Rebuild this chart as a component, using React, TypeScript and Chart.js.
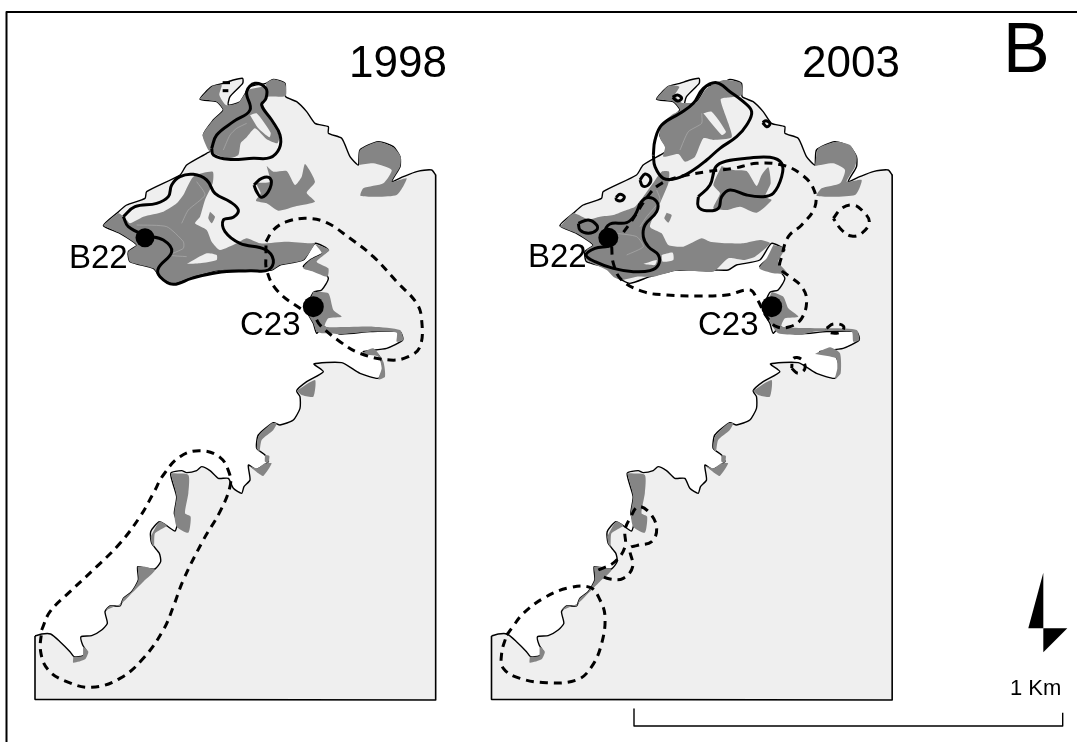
import React, { useEffect, useRef } from "react";
import { Chart, registerables } from "chart.js";

Chart.register(...registerables);

type Pt = { x: number; y: number };

const WIDTH = 1077;
const HEIGHT = 742;
const SHIFT_2003 = 456.5;
const FONT = '"Liberation Sans", Arial, sans-serif';

const GRAY = "#858585";
const LAND = "#efefef";
const INK = "#000000";

// Map units, traced in tripled resolution from each panel's local origin.
const ORIGIN_N98 = [20, 60];
const ORIGIN_S98 = [20, 380];
const ORIGIN_N03 = [480, 60];
const ORIGIN_S03 = [480, 380];

const coastSouth = [
  [45, 768], [65, 762], [92, 762], [120, 785], [150, 815], [162, 830], [188, 828], [200, 815], [188, 795],
  [183, 770], [215, 767], [245, 750], [262, 730], [255, 695], [270, 678], [300, 678], [310, 655], [335, 635], [355, 600],
  [353, 560], [378, 565], [405, 567], [422, 545], [418, 520], [395, 490], [392, 455], [418, 425], [440, 437], [465, 453],
  [472, 430], [463, 400], [470, 350], [452, 280], [485, 272], [500, 278], [530, 272], [545, 260], [570, 272], [595, 295],
  [625, 295], [640, 325], [665, 340], [672, 320], [690, 300], [685, 255], [708, 268], [745, 245], [735, 225], [710, 205],
  [715, 165], [760, 128], [780, 135], [820, 120], [840, 85], [840, 50], [830, 32],
];

const coastNorth = [
  [860, 965], [910, 935], [882, 912], [965, 908], [1020, 940], [1075, 955], [1090, 925], [1075, 885], [1030, 875],
  [1100, 865], [1148, 840], [1140, 815], [1050, 815], [960, 822], [910, 800], [890, 820], [880, 790], [860, 750],
  [880, 697], [905, 690], [925, 655], [900, 625], [850, 620], [870, 600], [925, 570], [885, 550], [850, 600], [780, 615],
  [755, 630], [715, 630], [600, 630], [520, 650], [460, 670], [420, 650], [400, 625], [330, 605], [325, 575], [350, 555],
  [300, 520], [250, 497], [290, 460], [320, 435], [375, 415], [380, 395], [480, 345], [500, 315], [560, 280], [575, 270],
  [550, 225], [580, 180], [610, 150], [590, 125], [540, 118], [575, 80], [610, 70], [640, 60], [668, 55], [668, 70],
  [630, 110], [625, 135], [660, 125], [690, 80], [738, 70], [760, 58], [795, 70], [797, 110], [830, 125], [860, 155],
  [885, 190], [925, 200], [925, 220], [965, 235], [990, 290], [1015, 315], [1020, 270], [1075, 245], [1120, 260],
  [1140, 290], [1140, 320], [1115, 365], [1150, 350], [1190, 335], [1235, 330], [1247, 345],
];

// Straight edges of the land block: right side, bottom, left side.
const landEdges = [[1247, 345 + 0], [1247, 960], [45, 958], [45, 768]];

// Shared small patches along the southern coast.
const southPatches = [
  [[830, 32], [885, 0], [880, 50], [845, 45]],
  [[688, 258], [712, 265], [735, 250], [755, 250], [730, 288], [715, 280]],
  [[735, 225], [748, 228], [745, 248], [735, 245]],
  [[710, 205], [715, 170], [755, 130], [770, 130], [760, 150], [725, 180], [718, 215]],
  [[452, 280], [505, 285], [505, 340], [495, 400], [512, 410], [505, 458], [470, 440], [463, 400], [470, 350]],
  [[392, 470], [418, 425], [440, 437], [405, 460], [402, 500], [395, 490]],
  [[353, 560], [375, 560], [405, 570], [370, 605], [335, 640], [305, 670], [258, 690], [270, 678], [300, 678], [310, 655], [335, 635], [355, 600]],
  [[160, 830], [188, 828], [190, 800], [205, 815], [195, 838], [160, 848]],
];

const gray98 = [
  [[538, 118], [578, 78], [605, 75], [598, 105], [618, 135], [655, 128], [685, 90], [738, 78], [738, 70], [760, 58], [795, 70], [797, 108], [745, 110], [725, 125], [745, 170], [778, 228], [772, 250], [740, 238], [705, 205], [680, 232], [662, 250], [655, 285], [625, 295], [578, 280], [565, 270], [548, 225], [580, 180], [610, 150], [590, 125]],
  [[250, 497], [295, 460], [320, 480], [330, 490], [370, 470], [430, 455], [470, 430], [490, 405], [520, 350], [578, 335], [578, 370], [555, 420], [540, 470], [525, 490], [560, 510], [575, 545], [600, 570], [650, 550], [680, 535], [720, 550], [800, 545], [870, 550], [885, 550], [850, 600], [780, 615], [755, 630], [715, 630], [600, 630], [520, 650], [460, 670], [420, 650], [400, 625], [330, 605], [325, 575], [350, 555], [300, 520]],
  [[570, 455], [585, 470], [575, 490], [565, 475]],
  [[740, 318], [760, 335], [800, 333], [825, 375], [845, 350], [855, 312], [885, 365], [860, 398], [885, 425], [830, 438], [775, 452], [740, 430], [708, 422], [722, 400], [710, 370], [750, 365]],
  [[1018, 315], [1020, 270], [1075, 245], [1120, 262], [1142, 290], [1140, 320], [1115, 365], [1160, 355], [1130, 405], [1022, 408], [1030, 385], [1090, 370], [1115, 330], [1060, 310]],
  [[885, 552], [928, 570], [890, 605], [925, 625], [922, 650], [880, 635], [850, 625], [870, 600], [905, 580]],
  [[880, 695], [925, 700], [940, 750], [965, 770], [925, 775], [915, 800], [1060, 800], [1140, 810], [1150, 840], [1130, 845], [1130, 818], [1050, 815], [960, 822], [910, 820], [890, 815], [880, 790], [860, 750]],
  [[1020, 882], [1060, 865], [1090, 905], [1095, 950], [1075, 958], [1085, 925], [1075, 890]],
];

const light98 = [
  [[690, 165], [710, 160], [752, 218], [748, 232], [715, 205]],
  [[500, 612], [560, 580], [590, 585], [590, 600], [540, 610]],
];

const gray03 = [
  [[528, 118], [565, 78], [598, 80], [585, 105], [605, 128], [650, 125], [680, 85], [730, 60], [782, 68], [785, 105], [750, 112], [722, 118], [745, 190], [755, 232], [700, 240], [670, 235], [645, 290], [615, 305], [595, 282], [550, 290], [555, 262], [540, 235], [540, 200], [575, 165], [600, 150], [580, 125]],
  [[240, 500], [280, 460], [325, 478], [360, 470], [400, 465], [440, 450], [465, 440], [490, 410], [515, 375], [545, 335], [567, 335], [565, 370], [540, 430], [510, 500], [545, 520], [565, 555], [610, 560], [665, 535], [690, 545], [745, 550], [790, 550], [840, 540], [870, 550], [825, 590], [790, 600], [745, 595], [700, 635], [600, 630], [520, 650], [470, 650], [425, 660], [400, 650], [380, 630], [320, 600], [320, 570], [340, 555], [290, 520]],
  [[560, 458], [575, 465], [565, 488], [553, 475]],
  [[725, 318], [760, 330], [800, 333], [830, 378], [845, 345], [865, 322], [872, 370], [855, 410], [875, 420], [830, 458], [780, 440], [740, 450], [700, 445], [720, 400], [700, 375]],
  [[1005, 318], [1015, 265], [1070, 245], [1110, 255], [1130, 290], [1125, 320], [1100, 365], [1145, 360], [1125, 405], [1010, 408], [1025, 385], [1080, 370], [1095, 330], [1060, 310]],
  [[880, 555], [915, 565], [895, 605], [922, 640], [880, 640], [838, 625], [860, 595]],
  [[875, 695], [910, 710], [925, 745], [955, 770], [915, 775], [905, 800], [1060, 805], [1130, 810], [1138, 840], [1120, 845], [1115, 815], [1000, 815], [960, 825], [895, 820], [875, 795], [855, 750]],
  [[1005, 882], [1050, 862], [1080, 880], [1082, 940], [1065, 958], [1072, 925], [1068, 895]],
];

const light03 = [
  [[670, 160], [695, 155], [738, 215], [725, 225]],
  [[490, 612], [530, 600], [525, 615]],
  [[545, 585], [578, 578], [580, 600], [548, 605]],
];

const veins98 = [
  [[350, 495], [440, 500], [490, 545], [490, 565], [450, 585], [500, 590]],
  [[530, 365], [555, 405], [505, 450], [485, 490]],
  [[610, 270], [630, 225], [650, 205], [680, 190]],
];
const veins03 = [
  [[410, 520], [470, 530], [490, 560], [440, 585]],
  [[530, 390], [540, 420], [500, 470], [480, 500]],
  [[600, 270], [625, 215], [665, 190], [665, 160]],
];

const solid98 = [
  [[575, 265], [590, 225], [640, 185], [690, 150], [680, 95], [705, 70], [738, 85], [738, 115], [725, 135], [755, 180], [780, 225], [778, 265], [750, 293], [700, 295], [625, 298], [580, 285], [575, 265]],
  [[310, 470], [345, 440], [410, 430], [445, 410], [455, 375], [480, 350], [520, 343], [560, 360], [585, 400], [630, 425], [655, 450], [640, 472], [610, 480], [615, 515], [660, 550], [735, 568], [760, 600], [745, 630], [690, 632], [590, 638], [515, 655], [460, 673], [420, 650], [415, 625], [455, 575], [430, 540], [375, 525], [325, 500], [310, 470]],
  [[702, 375], [725, 355], [750, 355], [750, 385], [725, 412], [710, 395], [702, 375]],
];

const dashed98North = [
  [[738, 545], [760, 510], [800, 485], [860, 475], [920, 488], [990, 535], [1060, 590], [1130, 665], [1190, 730], [1205, 780], [1200, 860], [1165, 890], [1110, 900], [1020, 880], [960, 845], [900, 795], [880, 765], [840, 745], [770, 690], [740, 630], [738, 580], [738, 545]],
  [[608, 68], [630, 68]],
  [[608, 92], [625, 92]],
];

const dashed98South = [
  [[65, 750], [90, 695], [150, 635], [230, 560], [300, 490], [360, 410], [400, 340], [430, 285], [480, 230], [540, 212], [600, 232], [628, 280], [630, 320], [600, 395], [550, 480], [490, 600], [460, 680], [430, 750], [370, 835], [300, 895], [215, 922], [140, 905], [85, 870], [62, 815], [65, 750]],
];

const solid03 = [
  [[520, 285], [525, 240], [545, 195], [600, 160], [640, 130], [670, 85], [710, 68], [750, 95], [790, 125], [815, 155], [800, 195], [770, 230], [720, 265], [680, 300], [640, 330], [590, 355], [550, 355], [525, 320], [520, 285]],
  [[655, 410], [690, 375], [708, 320], [740, 303], [800, 295], [870, 292], [905, 310], [905, 350], [880, 400], [850, 410], [800, 405], [750, 390], [725, 410], [715, 445], [680, 452], [655, 440], [655, 410]],
  [[480, 430], [500, 413], [530, 425], [530, 455], [495, 495], [490, 530], [505, 560], [535, 585], [535, 615], [510, 632], [460, 635], [400, 625], [345, 605], [318, 585], [345, 565], [390, 555], [375, 520], [390, 492], [440, 488], [465, 465], [480, 430]],
  [[295, 490], [325, 480], [350, 495], [350, 510], [325, 520], [300, 510], [295, 490]],
  [[480, 360], [495, 342], [512, 355], [505, 375], [488, 378], [480, 360]],
  [[408, 412], [420, 403], [433, 410], [425, 422], [410, 420], [408, 412]],
  [[578, 112], [592, 105], [605, 115], [592, 123], [578, 112]],
  [[848, 188], [858, 182], [870, 192], [860, 200], [848, 188]],
];

const dashed03North = [
  [[395, 560], [400, 610], [425, 660], [490, 695], [560, 705], [650, 708], [740, 705], [810, 690], [830, 715], [860, 770], [890, 800], [930, 800], [965, 775], [980, 720], [965, 680], [930, 650], [900, 625], [905, 590], [925, 530], [965, 495], [1005, 440], [1000, 385], [960, 340], [905, 315], [830, 310], [760, 325], [680, 335], [600, 350], [545, 370], [510, 400], [450, 490], [420, 530]],
  [[1060, 475], [1085, 445], [1120, 435], [1145, 450], [1168, 485], [1145, 520], [1115, 528], [1085, 510], [1060, 475]],
  [[1040, 805], [1060, 792], [1090, 798], [1085, 815], [1050, 818], [1040, 805]],
  [[935, 925], [955, 940], [975, 925], [965, 898], [940, 895], [935, 925]],
];

const dashed03South = [
  [[80, 765], [95, 745], [130, 700], [190, 655], [260, 625], [330, 622], [360, 660], [375, 710], [365, 790], [335, 860], [290, 900], [200, 908], [120, 895], [70, 865], [65, 820], [80, 765]],
  [[355, 570], [405, 545], [435, 500], [435, 450], [450, 415], [475, 380], [510, 400], [530, 445], [515, 485], [470, 497], [450, 505], [458, 560], [430, 595], [390, 597], [355, 585]],
];

const sites = [
  { name: "B22", x: 145, y: 237.7, r: 9.5 },
  { name: "C23", x: 313.3, y: 306.7, r: 10.5 },
  { name: "B22", x: 608.3, y: 237.7, r: 10 },
  { name: "C23", x: 771.7, y: 306.7, r: 10.5 },
];

const frameLine = [[1077, 12], [6.5, 12], [6.5, 742]];
const scaleBar = [[634, 709], [634, 726], [1062.7, 726], [1062.7, 712.7]];
const northLeft = [[1043.3, 572.7], [1028.3, 628.3], [1043.3, 628.3]];
const northRight = [[1043.3, 628.3], [1067.3, 628.3], [1043.3, 652.3]];

const labels = [
  { text: "1998", x: 349, y: 77, size: 44 },
  { text: "2003", x: 802, y: 77, size: 44 },
  { text: "B", x: 1003, y: 72, size: 70 },
  { text: "B22", x: 69, y: 268, size: 33 },
  { text: "C23", x: 240, y: 335, size: 33 },
  { text: "B22", x: 528, y: 266.7, size: 33 },
  { text: "C23", x: 698, y: 335, size: 33 },
  { text: "1 Km", x: 1010, y: 695, size: 22 },
];

const toMap = (pts: number[][], origin: number[]): Pt[] =>
  pts.map(([x, y]) => ({ x: origin[0] + x / 3, y: origin[1] + y / 3 }));
const plain = (pts: number[][]): Pt[] => pts.map(([x, y]) => ({ x, y }));
const moved = (pts: Pt[], dx: number): Pt[] => pts.map((p) => ({ x: p.x + dx, y: p.y }));

const coastLine: Pt[] = [...toMap(coastSouth, ORIGIN_S98), ...toMap(coastNorth, ORIGIN_N98)];
const edgeLine: Pt[] = [
  coastLine[coastLine.length - 1],
  ...toMap(landEdges.slice(1), ORIGIN_S98),
];
const landOutline: Pt[] = [...coastLine, ...edgeLine.slice(1)];

const poly = (data: Pt[], fillColor: string, tension = 0) => ({
  data: [...data, data[0]],
  showLine: true,
  fill: "shape" as const,
  backgroundColor: fillColor,
  borderColor: fillColor,
  borderWidth: 0,
  pointRadius: 0,
  tension,
});

const stroke = (data: Pt[], width: number, dash: number[] = [], tension = 0.4, color = INK) => ({
  data,
  showLine: true,
  fill: false,
  borderColor: color,
  borderWidth: width,
  borderDash: dash,
  pointRadius: 0,
  tension,
  borderCapStyle: "butt" as const,
  borderJoinStyle: "round" as const,
});

const DASH = [8, 6];
const HEAVY = 3;
const SOFT = 0.2;

function buildDatasets() {
  const list: any[] = [];
  [0, SHIFT_2003].forEach((dx) => {
    list.push(poly(moved(landOutline, dx), LAND));
    list.push(stroke(moved(coastLine, dx), 1.4, [], SOFT));
    list.push(stroke(moved(edgeLine, dx), 1.6, [], 0));
  });

  gray98.forEach((p) => list.push(poly(toMap(p, ORIGIN_N98), GRAY, SOFT)));
  southPatches.forEach((p) => list.push(poly(toMap(p, ORIGIN_S98), GRAY, SOFT)));
  light98.forEach((p) => list.push(poly(toMap(p, ORIGIN_N98), LAND, SOFT)));
  veins98.forEach((p) => list.push(stroke(toMap(p, ORIGIN_N98), 0.6, [], SOFT, "#b4b4b4")));

  gray03.forEach((p) => list.push(poly(toMap(p, ORIGIN_N03), GRAY, SOFT)));
  southPatches.forEach((p) => list.push(poly(moved(toMap(p, ORIGIN_S98), SHIFT_2003), GRAY, SOFT)));
  light03.forEach((p) => list.push(poly(toMap(p, ORIGIN_N03), LAND, SOFT)));
  veins03.forEach((p) => list.push(stroke(toMap(p, ORIGIN_N03), 0.6, [], SOFT, "#b4b4b4")));

  dashed98North.forEach((p) => list.push(stroke(toMap(p, ORIGIN_N98), HEAVY, DASH)));
  dashed98South.forEach((p) => list.push(stroke(toMap(p, ORIGIN_S98), HEAVY, DASH)));
  dashed03North.forEach((p) => list.push(stroke(toMap(p, ORIGIN_N03), HEAVY, DASH)));
  dashed03South.forEach((p) => list.push(stroke(toMap(p, ORIGIN_S03), HEAVY, DASH)));
  solid98.forEach((p) => list.push(stroke(toMap(p, ORIGIN_N98), HEAVY)));
  solid03.forEach((p) => list.push(stroke(toMap(p, ORIGIN_N03), HEAVY)));

  list.push(stroke(plain(frameLine), 2, [], 0));
  list.push(stroke(plain(scaleBar), 1.4, [], 0));
  list.push(poly(plain(northLeft), INK));
  list.push(poly(plain(northRight), INK));

  list.push({
    data: sites.map((s) => ({ x: s.x, y: s.y })),
    showLine: false,
    pointRadius: sites.map((s) => s.r),
    pointBackgroundColor: INK,
    pointBorderWidth: 0,
  });

  const total = list.length;
  return list.map((d, i) => ({ ...d, order: total - i, clip: false }));
}

const textPlugin = {
  id: "mapText",
  afterDraw(chart: any) {
    const { ctx } = chart;
    ctx.save();
    ctx.fillStyle = INK;
    ctx.textAlign = "left";
    ctx.textBaseline = "alphabetic";
    labels.forEach((l) => {
      ctx.font = `${l.size}px ${FONT}`;
      ctx.fillText(l.text, l.x, l.y);
    });
    ctx.restore();
  },
};

export default function App() {
  const ref = useRef<HTMLCanvasElement>(null);

  useEffect(() => {
    if (!ref.current) return;
    const chart = new Chart(ref.current, {
      type: "scatter",
      data: { datasets: buildDatasets() },
      options: {
        animation: false,
        responsive: false,
        devicePixelRatio: 1,
        layout: { padding: 0, autoPadding: false },
        plugins: { legend: { display: false }, tooltip: { enabled: false }, title: { display: false } },
        scales: {
          x: { type: "linear", display: false, min: 0, max: WIDTH },
          y: { type: "linear", display: false, min: 0, max: HEIGHT, reverse: true },
        },
      },
      plugins: [textPlugin],
    } as any);
    return () => chart.destroy();
  }, []);

  return (
    <canvas
      ref={ref}
      width={WIDTH}
      height={HEIGHT}
      style={{ position: "absolute", left: 0, top: 0, display: "block", background: "#ffffff" }}
    />
  );
}
